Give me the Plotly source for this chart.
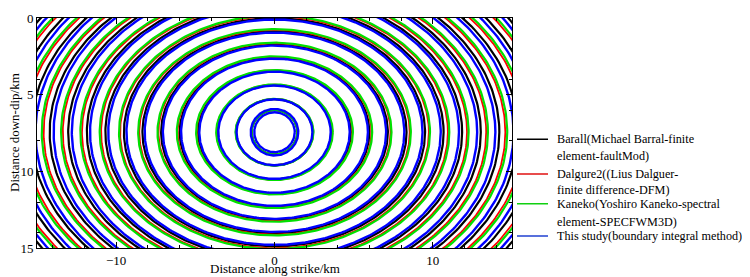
import numpy as np
import plotly.graph_objects as go

# Rupture-front contours: horizontal (a) and vertical (b) semi-axes in km, per method
center_x = 0.0
center_y = 7.45

barall_a = [1.45, 2.42, 3.59, 4.82, 5.99, 7.16, 8.34, 9.51, 10.68, 11.85, 13.03, 14.2, 15.37, 16.55, 17.72, 18.89]
barall_b = [1.45, 2.16, 3.07, 3.99, 4.85, 5.71, 6.58, 7.44, 8.3, 9.16, 10.03, 10.89, 11.75, 12.62, 13.48, 14.34]

dalguer_a = [1.45, 2.45, 3.66, 4.92, 6.12, 7.33, 8.54, 9.75, 10.95, 12.16, 13.37, 14.58, 15.78, 16.99, 18.2, 19.41]
dalguer_b = [1.45, 2.17, 3.11, 4.04, 4.92, 5.8, 6.68, 7.56, 8.44, 9.32, 10.2, 11.08, 11.96, 12.84, 13.71, 14.59]

kaneko_a = [1.45, 2.46, 3.68, 4.95, 6.17, 7.39, 8.61, 9.82, 11.04, 12.26, 13.48, 14.7, 15.92, 17.14, 18.36, 19.58]
kaneko_b = [1.45, 2.18, 3.12, 4.06, 4.95, 5.84, 6.73, 7.62, 8.5, 9.39, 10.28, 11.17, 12.06, 12.95, 13.83, 14.72]

study_a = [1.28, 1.5, 2.4, 3.55, 4.75, 5.9, 7.05, 8.2, 9.35, 10.5, 11.65, 12.8, 13.95, 15.1, 16.25, 17.4, 18.55]
study_b = [1.3, 1.52, 2.15, 3.05, 3.95, 4.8, 5.65, 6.5, 7.35, 8.2, 9.05, 9.9, 10.75, 11.6, 12.45, 13.3, 14.15]

legend_labels = [
    ["Barall(Michael Barral-finite", "element-faultMod)"],
    ["Dalgure2((Lius Dalguer-", "finite difference-DFM)"],
    ["Kaneko(Yoshiro Kaneko-spectral", "element-SPECFWM3D)"],
    ["This study(boundary integral method)"],
]
colors = ["#000000", "#ff0000", "#00e000", "#0000ff"]
legend_colors = ["#000000", "#e01010", "#10d010", "#2040d0"]
widths = [2.2, 1.8, 2.2, 2.4]

x_ticks = [-10, 0, 10]
x_tick_text = ["\u221210", "0", "10"]
y_ticks = [0, 5, 10, 15]
x_title = "Distance along strike/km"
y_title = "Distance down-dip/km"

theta = np.linspace(0, 2 * np.pi, 361)


def rings(a_list, b_list):
    xs, ys = [], []
    for a, b in zip(a_list, b_list):
        xs.extend(list(center_x + a * np.cos(theta)) + [None])
        ys.extend(list(center_y + b * np.sin(theta)) + [None])
    return xs, ys


fig = go.Figure()
for (al, bl), lab, col, w in zip(
    [(barall_a, barall_b), (dalguer_a, dalguer_b), (kaneko_a, kaneko_b), (study_a, study_b)],
    legend_labels, colors, widths,
):
    xs, ys = rings(al, bl)
    fig.add_trace(go.Scatter(x=xs, y=ys, mode="lines", name=" ".join(lab), showlegend=False,
                             line=dict(color=col, width=w), hoverinfo="skip"))

font = "Liberation Serif"

# legend drawn at the right of the plot (paper coordinates)
entry_y = [0.4726, 0.3219, 0.1928, 0.0519]
second_y = [0.4008, 0.2532, 0.1139, None]
shapes, annotations = [], []
for lab, col, y1, y2 in zip(legend_labels, legend_colors, entry_y, second_y):
    shapes.append(dict(type="line", xref="paper", yref="paper", x0=1.0105, x1=1.0758,
                       y0=y1, y1=y1, line=dict(color=col, width=1.5)))
    for txt, yy in zip(lab, [y1, y2]):
        annotations.append(dict(text=txt, xref="paper", yref="paper", x=1.0905, y=yy,
                                xanchor="left", yanchor="middle", showarrow=False,
                                font=dict(family=font, size=12.2, color="black")))

annotations += [
    dict(text=x_title, xref="paper", yref="paper", x=0.5, y=0.0,
         yshift=-20, xanchor="center", yanchor="middle", showarrow=False,
         font=dict(family=font, size=13, color="black")),
    dict(text=y_title, xref="paper", yref="paper", x=0.0, y=0.5,
         xshift=-23, xanchor="center", yanchor="middle", showarrow=False, textangle=-90,
         font=dict(family=font, size=13, color="black")),
]

axis_common = dict(
    showgrid=False, zeroline=False, showline=True, linecolor="black", linewidth=1,
    mirror="allticks", ticks="inside", ticklen=6, tickwidth=1, tickcolor="black",
    tickfont=dict(family=font, size=13, color="black"), ticklabeloverflow="allow",
)
fig.update_layout(
    width=750, height=277,
    margin=dict(l=29, r=246, t=3, b=37),
    paper_bgcolor="white", plot_bgcolor="white",
    font=dict(family=font, size=13, color="black"),
    xaxis=dict(range=[-15, 15], tickvals=x_ticks, ticktext=x_tick_text,
               minor=dict(dtick=2, ticks="inside", ticklen=3, tickcolor="black"),
               **axis_common),
    yaxis=dict(range=[15, 0], tickvals=y_ticks,
               minor=dict(dtick=2, ticks="inside", ticklen=3, tickcolor="black"),
               **axis_common),
    showlegend=False,
    shapes=shapes,
    annotations=annotations,
)

fig.write_html("out.html")
